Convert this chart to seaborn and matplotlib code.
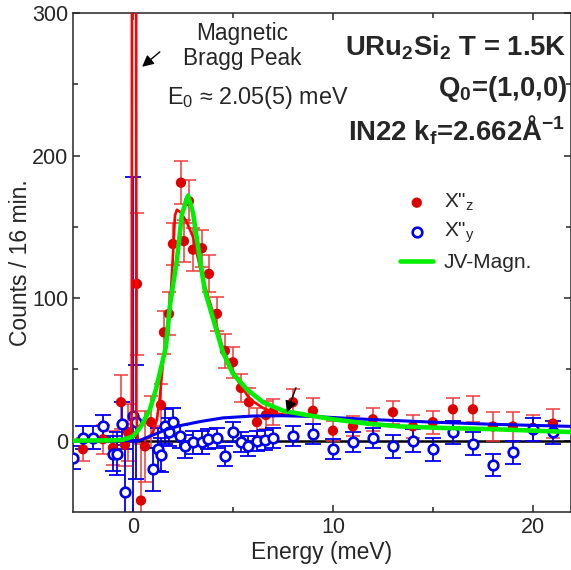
import pandas as pd
import seaborn as sns
import matplotlib.pyplot as plt

# X"z : filled red points (energy, counts, error)
ez = [-2.5, -1.5, -1.0, -0.6, -0.4, -0.25, 0.2, 0.4, 0.6, 0.9, 1.4, 1.55, 1.8, 2.0,
      2.4, 2.55, 2.8, 3.0, 3.45, 3.8, 4.2, 4.6, 5.0, 5.4, 5.8, 6.2, 6.65, 7.0, 8.0,
      9.0, 10, 11, 12, 13, 14, 15, 16, 17, 18, 19, 20, 21]
cz = [-6, 1, -5, 27, -3, 6, 110, -42, -4, 13, 25, 76, 89, 138,
      181, 140, 168, 134, 135, 117, 89, 63, 55, 37, 27, 13, 18, 20, 27,
      21, 7, 10, 15, 20, 10, 13, 22, 22, 10, 10, 9, 12]
dz = [8, 10, 12, 19, 15, 20, 50, 40, 25, 18, 15, 15, 15, 15,
      15, 15, 15, 15, 13, 13, 12, 12, 11, 10, 10, 10, 10, 9, 9,
      9, 7, 7, 8, 8, 8, 8, 8, 9, 10, 10, 9, 10]

# X"y : open blue circles
ey = [-3.0, -2.5, -2.0, -1.5, -1.0, -0.8, -0.55, -0.4, 0.0, 0.15, 1.0, 1.25, 1.4,
      1.6, 1.8, 2.0, 2.35, 2.6, 3.0, 3.45, 3.75, 4.2, 4.6, 5.0, 5.4, 5.75, 6.2,
      6.6, 7.0, 8.0, 9.0, 10, 11, 12, 13, 14, 15, 16, 17, 18, 19, 20, 21]
cy = [-12, 2, 2, 10, -9, -9, 12, -36, 17, 13, -20, -6, -10,
      10, 6, 13, 3, -4, -1, -1, 1, 2, -11, 6, -1, -4, 0,
      0.5, 2, 3, 5, -6, -1, 2, -4, 0, -6, 6, -2, -17, -8, 8, 6]
dy = [8, 8, 8, 8, 12, 15, 15, 30, 168, 40, 15, 15, 12,
      12, 10, 10, 8, 8, 8, 8, 7, 7, 7, 7, 7, 7, 7,
      7, 7, 7, 7, 7, 7, 7, 8, 8, 8, 8, 8, 8, 8, 8, 8]

# red fit (incl. magnetic Bragg peak)
fit_z_e = [-3.0, -0.12, -0.06, -0.04, 0.15, 0.17, 0.24, 0.8, 1.0, 1.2, 1.35, 1.5, 1.75,
           1.85, 2.0, 2.1, 2.2, 2.4, 2.7, 3.0, 3.5, 4.0, 4.5, 5.2, 5.85, 6.5, 7.2, 8.0]
fit_z_c = [0, 0, 20, 600, 600, 20, 0, 2, 6, 15, 31, 55, 80,
           92, 130, 158, 162, 160, 153, 143, 113, 90, 64, 43, 29, 23, 19, 17.5]

# blue fit
fit_y_e = [-3.0, 0.3, 1.0, 1.7, 2.5, 3.4, 4.5, 6.0, 7.5, 9.0, 11.7, 15.0, 18.0, 22.0]
fit_y_c = [0, 0, 4, 8, 11, 13.5, 16, 17.3, 17.5, 17, 15, 13, 11.5, 10]

# JV-Magn. (green)
jv_e = [-3.0, -1.0, -0.5, 0.0, 0.4, 0.85, 1.15, 1.5, 1.65, 1.85, 2.2, 2.45, 2.75, 3.0,
        3.35, 3.6, 4.0, 4.5, 5.0, 5.7, 6.5, 7.5, 8.7, 10, 11.7, 13.35, 15.35, 18.2, 22]
jv_c = [0, 0.3, 0.7, 3, 10, 22, 36, 57, 66, 95, 127, 159, 172, 160,
        127, 105, 86, 62, 47, 36, 27, 21, 18, 15, 12, 10, 9, 8, 6]

sns.set_style("ticks")
plt.rcParams["font.family"] = ["Liberation Sans", "DejaVu Sans"]
plt.rcParams["mathtext.fontset"] = "custom"
plt.rcParams["mathtext.rm"] = "Liberation Sans"
plt.rcParams["mathtext.it"] = "Liberation Sans:italic"
plt.rcParams["mathtext.bf"] = "Liberation Sans:bold"

red = "#dd0000"
blue = "#0000ee"

fig = plt.figure(figsize=(5.71, 5.70), dpi=100)
ax = fig.add_axes([0.1278, 0.1018, 0.872, 0.8754])

df_z = pd.DataFrame({"E": ez, "C": cz, "err": dz})
df_y = pd.DataFrame({"E": ey, "C": cy, "err": dy})

ax.axhline(0, color="black", lw=1.8, zorder=1)

# error bars
ax.errorbar(df_z.E, df_z.C, yerr=df_z.err, fmt="none", ecolor="#ec3a3a",
            elinewidth=1.1, capsize=4.7, capthick=1.1, zorder=2)
ax.errorbar(df_y.E, df_y.C, yerr=df_y.err, fmt="none", ecolor=blue,
            elinewidth=1.3, capsize=5.5, capthick=1.3, zorder=2)

sns.scatterplot(data=df_z, x="E", y="C", color=red, s=55, edgecolor="none",
                label='X"$_\\mathregular{z}$', ax=ax, zorder=3)
sns.scatterplot(data=df_y, x="E", y="C", facecolor="white", edgecolor=blue,
                linewidth=1.9, s=48, label='X"$_\\mathregular{y}$', ax=ax, zorder=3)

# fitted curves
sns.lineplot(x=fit_z_e, y=fit_z_c, color="#ff0000", lw=1.9, sort=False,
             estimator=None, ax=ax, zorder=4)
sns.lineplot(x=fit_y_e, y=fit_y_c, color=blue, lw=2.2, sort=False,
             estimator=None, ax=ax, zorder=4)
sns.lineplot(x=jv_e, y=jv_c, color="#00ee00", lw=3.3, sort=False,
             estimator=None, label="JV-Magn.", ax=ax, zorder=5)

# annotations
ax.annotate("", xy=(0.35, 261), xytext=(1.45, 274),
            arrowprops=dict(arrowstyle="-|>", color="black", lw=1,
                            mutation_scale=17))
ax.annotate("", xy=(7.65, 18), xytext=(8.2, 39),
            arrowprops=dict(arrowstyle="-|>", color="black", lw=1,
                            mutation_scale=17), zorder=6)
ax.text(5.45, 277, "Magnetic\nBragg Peak", ha="center", va="center",
        fontsize=16.3, linespacing=1.08)
ax.text(1.7, 240.5, "E$_\\mathregular{0}$ ≈ 2.05(5) meV", ha="left",
        va="center", fontsize=16.8)
ax.text(21.7, 275.5, "URu$_\\mathbf{2}$Si$_\\mathbf{2}$ T = 1.5K", ha="right",
        va="center", fontsize=19.8, fontweight="bold")
ax.text(21.7, 247, "Q$_\\mathbf{0}$=(1,0,0)", ha="right", va="center",
        fontsize=19.8, fontweight="bold")
ax.text(21.6, 217.5, "IN22 k$_\\mathbf{f}$=2.662Å$^\\mathbf{-1}$", ha="right",
        va="center", fontsize=19.8, fontweight="bold")

ax.set_xlim(-3.0, 21.9)
ax.set_ylim(-50, 300)
ax.set_xticks([0, 10, 20])
ax.set_xticks([5, 15], minor=True)
ax.set_yticks([0, 100, 200, 300])
ax.set_yticks([50, 150, 250], minor=True)
ax.tick_params(which="both", direction="in", top=True, right=True,
               labelsize=15.5, width=1.1)
ax.tick_params(which="major", length=5)
ax.tick_params(which="minor", length=3.5)
for s in ax.spines.values():
    s.set_linewidth(1.1)
ax.set_xlabel("Energy (meV)", fontsize=16.5, labelpad=2)
ax.set_ylabel("Counts / 16 min.", fontsize=16.5, labelpad=0)

ax.legend(loc="upper left", bbox_to_anchor=(0.657, 0.641), frameon=False,
          fontsize=15, handlelength=1.6, handletextpad=0.5, labelspacing=0.36,
          borderpad=0, borderaxespad=0)

fig.savefig("out.png", dpi=100)
